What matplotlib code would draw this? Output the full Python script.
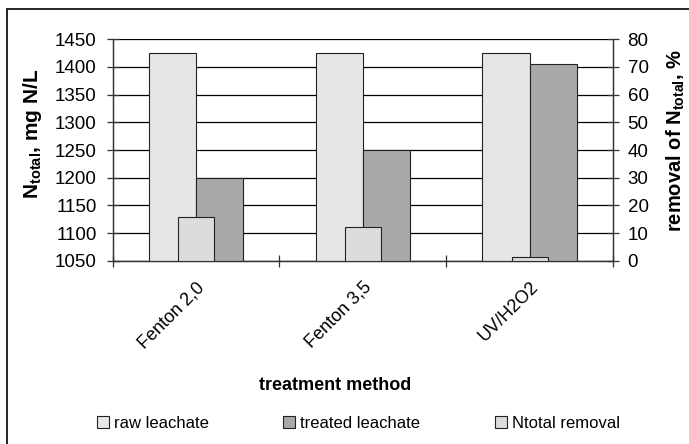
import numpy as np
import matplotlib.pyplot as plt
from matplotlib.patches import Rectangle

plt.rcParams['font.family'] = ['Liberation Sans', 'DejaVu Sans']
plt.rcParams['mathtext.fontset'] = 'custom'
plt.rcParams['mathtext.rm'] = 'Liberation Sans'
plt.rcParams['mathtext.bf'] = 'Liberation Sans:bold'

methods = ['Fenton 2,0', 'Fenton 3,5', 'UV/H2O2']
raw = [1425, 1425, 1425]  # mg N/L
treated = [1200, 1250, 1405]  # mg N/L
removal = [15.8, 12.3, 1.4]  # %

fig = plt.figure(figsize=(6.89, 4.44), dpi=100)
ax = fig.add_axes([0.1634, 0.4128, 0.7263, 0.4987])

x = np.arange(len(methods))
w = 0.283
ax.bar(x - w/2, raw, w, color='#e6e6e6', edgecolor='#222222', linewidth=0.8, zorder=3, label='raw leachate')
ax.bar(x + w/2, treated, w, color='#a9a9a9', edgecolor='#222222', linewidth=0.8, zorder=3, label='treated leachate')
ax.set_ylim(1050, 1450)
ax.set_xlim(-0.5, 2.5)
ax.set_yticks(np.arange(1050, 1451, 50))
ax.yaxis.grid(True, color='black', linewidth=0.9, zorder=0)
ax.set_axisbelow(True)

ax2 = ax.twinx()
ax2.bar(x, removal, 0.216, color='#dcdcdc', edgecolor='#222222', linewidth=0.8, zorder=3, label='Ntotal removal')
ax2.set_ylim(0, 80)
ax2.set_yticks(np.arange(0, 81, 10))

for a in (ax, ax2):
    for s in a.spines.values():
        s.set_color('#333333')
        s.set_linewidth(0.9)
    a.spines['top'].set_visible(False)
    a.tick_params(axis='y', direction='inout', length=9, width=0.9, labelsize=13.5, color='#333333')
ax.tick_params(axis='y', pad=7)
ax2.tick_params(axis='y', pad=6)

ax.set_xticks(x)
ax.set_xticklabels(methods, rotation=45, ha='right', rotation_mode='anchor', fontsize=13)
ax.tick_params(axis='x', which='major', length=0, pad=13)
ax.set_xticks([-0.5, 0.5, 1.5, 2.5], minor=True)
ax.tick_params(axis='x', which='minor', direction='inout', length=9, width=0.9, color='#333333')

ax.set_ylabel(r'$\mathbf{N_{total}}$, mg N/L', fontsize=15, fontweight='bold')
ax2.set_ylabel(r'removal of $\mathbf{N_{total}}$, %', fontsize=14.5, fontweight='bold')
ax.yaxis.set_label_coords(-0.137, 0.572)
ax2.yaxis.set_label_coords(1.104, 0.545)
ax.set_xlabel('treatment method', fontsize=13, fontweight='bold')
ax.xaxis.set_label_coords(0.444, -0.525)

h1, l1 = ax.get_legend_handles_labels()
h2, l2 = ax2.get_legend_handles_labels()
fig.legend(h1 + h2, l1 + l2, loc='center', bbox_to_anchor=(0.52, 0.047), ncol=3, frameon=False,
           fontsize=12, handlelength=0.7, handleheight=0.7, handletextpad=0.3, columnspacing=4.5)

fig.patches.append(Rectangle((7/689, -0.1), 1.2, 1.1 - 9/444, transform=fig.transFigure,
                             fill=False, edgecolor='black', linewidth=1.2))

fig.savefig('out.png', dpi=100)
